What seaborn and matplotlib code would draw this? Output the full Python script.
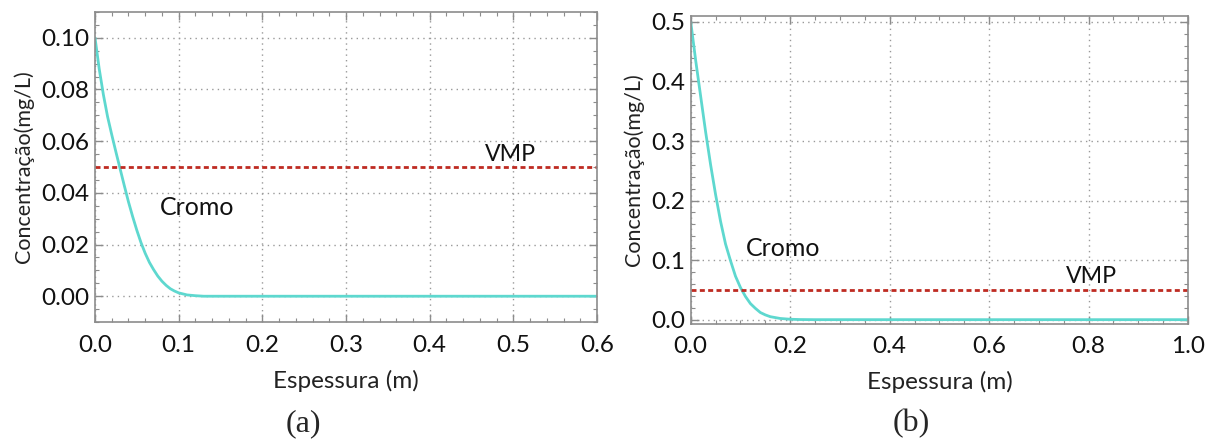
import matplotlib
matplotlib.use("Agg")
import matplotlib.pyplot as plt
import seaborn as sns
import pandas as pd
from matplotlib.ticker import MultipleLocator, FormatStrFormatter

# ---- data ----
x_a = [0.0, 0.005, 0.010, 0.015, 0.020, 0.025, 0.030, 0.035, 0.040, 0.045, 0.050,
       0.055, 0.060, 0.065, 0.070, 0.075, 0.080, 0.085, 0.090, 0.095, 0.100,
       0.110, 0.120, 0.130, 0.600]
c_a = [0.100, 0.088, 0.078, 0.0695, 0.0625, 0.0558, 0.0493, 0.0428, 0.0365, 0.0308, 0.0255,
       0.0207, 0.0166, 0.0131, 0.0103, 0.0078, 0.0058, 0.0042, 0.0029, 0.0020, 0.0013,
       0.0005, 0.0002, 0.0, 0.0]
vmp_a = 0.05

x_b = [0.0, 0.01, 0.02, 0.03, 0.04, 0.05, 0.06, 0.07, 0.08, 0.09, 0.10,
       0.11, 0.12, 0.13, 0.14, 0.15, 0.16, 0.18, 0.20, 0.22, 0.25, 1.0]
c_b = [0.50, 0.435, 0.375, 0.315, 0.26, 0.21, 0.165, 0.127, 0.099, 0.073, 0.054,
       0.039, 0.027, 0.019, 0.012, 0.008, 0.005, 0.002, 0.0007, 0.0002, 0.0, 0.0]
vmp_b = 0.05

xlabel = "Espessura (m)"
ylabel = "Concentração(mg/L)"

sns.set_theme(style="ticks")
plt.rcParams['font.family'] = ['Lato', 'DejaVu Sans']

fig = plt.figure(figsize=(12.15, 4.43), dpi=100)
ax1 = fig.add_axes([0.0782, 0.273, 0.4132, 0.700])
ax2 = fig.add_axes([0.5685, 0.269, 0.4093, 0.695])

curve_color = "#5ED8CF"
vmp_color = "#BF2B22"
frame_color = "#8C8C8C"

def style(ax, xlim, ylim, xmaj, xmin, ymaj, ymin):
    ax.set_xlim(*xlim)
    ax.set_ylim(*ylim)
    ax.xaxis.set_major_locator(MultipleLocator(xmaj))
    ax.xaxis.set_minor_locator(MultipleLocator(xmin))
    ax.yaxis.set_major_locator(MultipleLocator(ymaj))
    ax.yaxis.set_minor_locator(MultipleLocator(ymin))
    ax.tick_params(which='both', direction='in', top=True, right=True,
                   color=frame_color, labelsize=17.5, labelcolor='#111111')
    ax.tick_params(which='major', length=6, width=1)
    ax.tick_params(which='minor', length=3, width=0.8)
    ax.tick_params(axis='x', which='major', pad=9)
    ax.tick_params(axis='y', which='major', pad=4)
    for s in ax.spines.values():
        s.set_color(frame_color)
        s.set_linewidth(1.2)
    ax.grid(True, which='major', linestyle=(0, (1, 3)), color='#999999', linewidth=1)
    ax.set_axisbelow(True)
    ax.set_xlabel(xlabel, fontsize=17.5, color='#222222', labelpad=10)
    ax.set_ylabel(ylabel, fontsize=15.5, color='#222222', labelpad=5)

dash = (0, (1.8, 1.2))

df_a = pd.DataFrame({"x": x_a, "c": c_a})
sns.lineplot(data=df_a, x="x", y="c", ax=ax1, color=curve_color, linewidth=2.0)
ax1.axhline(vmp_a, color=vmp_color, linestyle=dash, linewidth=2.0)
style(ax1, (0, 0.6), (-0.01, 0.11), 0.1, 0.02, 0.02, 0.005)
ax1.yaxis.set_major_formatter(FormatStrFormatter('%.2f'))
ax1.xaxis.set_major_formatter(FormatStrFormatter('%.1f'))
ax1.text(0.122, 0.0344, "Cromo", fontsize=18, ha='center', va='center', color='#111111')
ax1.text(0.497, 0.0548, "VMP", fontsize=16.7, ha='center', va='center', color='#111111')

df_b = pd.DataFrame({"x": x_b, "c": c_b})
sns.lineplot(data=df_b, x="x", y="c", ax=ax2, color=curve_color, linewidth=2.0)
ax2.axhline(vmp_b, color=vmp_color, linestyle=dash, linewidth=2.0)
style(ax2, (0, 1.0), (-0.007, 0.51), 0.2, 0.05, 0.1, 0.02)
ax2.yaxis.set_major_formatter(FormatStrFormatter('%.1f'))
ax2.xaxis.set_major_formatter(FormatStrFormatter('%.1f'))
ax2.text(0.185, 0.12, "Cromo", fontsize=18, ha='center', va='center', color='#111111')
ax2.text(0.805, 0.072, "VMP", fontsize=16.7, ha='center', va='center', color='#111111')

fig.text(303 / 1215, 1 - 424 / 443, "(a)", fontsize=23, ha='center', va='center',
         family=['Liberation Serif', 'DejaVu Serif'])
fig.text(911 / 1215, 1 - 424 / 443, "(b)", fontsize=23, ha='center', va='center',
         family=['Liberation Serif', 'DejaVu Serif'])

fig.savefig("out.png", dpi=100)
